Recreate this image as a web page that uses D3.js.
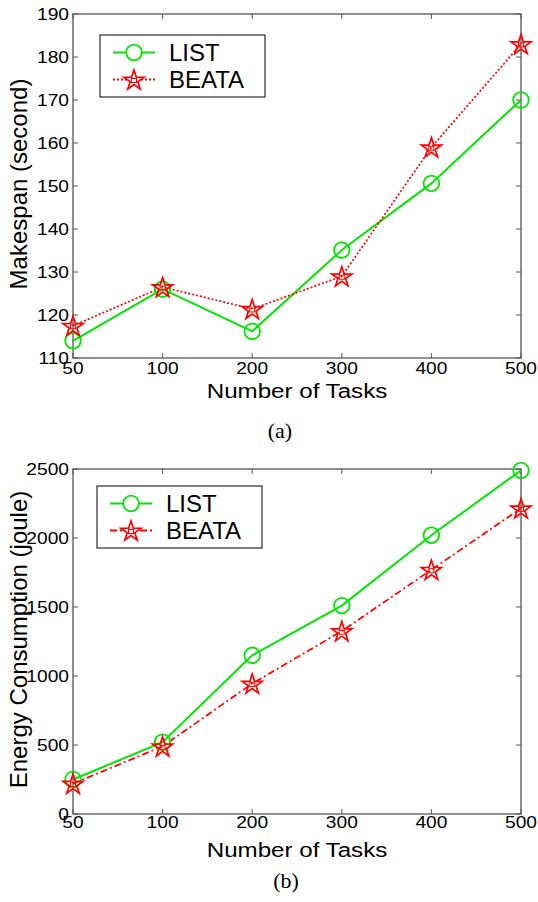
<!DOCTYPE html>
<html>
<head>
<meta charset="utf-8">
<script src="https://cdn.jsdelivr.net/npm/d3@7"></script>
<style>
  body { margin: 0; background: #fff; }
  text { font-family: Arial, "Liberation Sans", sans-serif; fill: #000; }
</style>
</head>
<body>
<svg id="chart" width="538" height="902"></svg>
<script>
const tasks = ["50", "100", "200", "300", "400", "500"];
const seriesNames = ["LIST", "BEATA"];

const makespanList = [114, 126, 116.2, 135.1, 150.6, 170];
const makespanBeata = [117.5, 126.5, 121.4, 129, 159, 183];
const makespanTicks = [110, 120, 130, 140, 150, 160, 170, 180, 190];

const energyList = [250, 520, 1150, 1510, 2020, 2490];
const energyBeata = [220, 490, 945, 1325, 1770, 2215];
const energyTicks = [0, 500, 1000, 1500, 2000, 2500];

const GREEN = "#00e600";
const RED = "#ff0000";
const svg = d3.select("#chart");
const starPath = d3.symbol().type(d3.symbolStar).size(125);

// stretched text helper (reference glyphs are wider than Arial)
function sText(g, x, y, str, size, sx, anchor) {
  return g.append("text")
    .attr("transform", `translate(${x},${y}) scale(${sx},1)`)
    .attr("text-anchor", anchor).attr("font-size", size)
    .text(str);
}

function star(g, cx, cy, fill) {
  const s = g.append("g").attr("transform", `translate(${cx},${cy + 1})`);
  s.append("path").attr("d", starPath)
    .attr("fill", fill).attr("stroke", RED).attr("stroke-width", 1.7);
  s.append("rect").attr("x", -2.5).attr("y", -2).attr("width", 5).attr("height", 4)
    .attr("fill", "none").attr("stroke", RED).attr("stroke-width", 1);
}

function drawPanel(opts) {
  const { top, bottom, left, right, yDomain, yTicks, list, beata, beataDash,
          yLabel, caption, captionX, xLabelY, tickY, legend } = opts;

  const x = d3.scalePoint().domain(tasks).range([left, right]);
  const y = d3.scaleLinear().domain(yDomain).range([bottom, top]);

  const g = svg.append("g");

  // box
  g.append("rect")
    .attr("x", left).attr("y", top)
    .attr("width", right - left).attr("height", bottom - top)
    .attr("fill", "none").attr("stroke", "#555").attr("stroke-width", 1.3);

  // inward ticks
  const tl = 5;
  g.selectAll(".xt").data(tasks).join("path")
    .attr("d", d => `M${x(d)},${bottom}v${-tl}M${x(d)},${top}v${tl}`)
    .attr("stroke", "#555");
  g.selectAll(".yt").data(yTicks).join("path")
    .attr("d", d => `M${left},${y(d)}h${tl}M${right},${y(d)}h${-tl}`)
    .attr("stroke", "#555");

  tasks.forEach(d => sText(g, x(d), bottom + tickY, d, 17, 1.13, "middle"));
  yTicks.forEach(d => sText(g, left - 4, y(d) + 6, d, 17, 1.13, "end"));

  sText(g, (left + right) / 2, bottom + xLabelY, "Number of Tasks", 21, 1.15, "middle");
  g.append("text")
    .attr("transform", `translate(27,${(top + bottom) / 2 - 2}) rotate(-90)`)
    .attr("text-anchor", "middle").attr("font-size", 24)
    .text(yLabel);
  g.append("text")
    .attr("x", captionX).attr("y", opts.captionY)
    .attr("text-anchor", "middle").attr("font-size", 22)
    .style("font-family", "'Liberation Serif', 'Times New Roman', serif")
    .text(caption);

  const line = d3.line().x((d, i) => x(tasks[i])).y(d => y(d));

  g.append("path").datum(list).attr("d", line)
    .attr("fill", "none").attr("stroke", GREEN).attr("stroke-width", 2);
  g.append("path").datum(beata).attr("d", line)
    .attr("fill", "none").attr("stroke", RED).attr("stroke-width", 1.7)
    .attr("stroke-dasharray", beataDash);

  g.selectAll(".lm").data(list).join("circle")
    .attr("cx", (d, i) => x(tasks[i])).attr("cy", d => y(d)).attr("r", 7.8)
    .attr("fill", "none").attr("stroke", GREEN).attr("stroke-width", 1.8);
  beata.forEach((d, i) => star(g, x(tasks[i]), y(d), "none"));

  // legend
  const lg = g.append("g");
  lg.append("rect")
    .attr("x", legend.x).attr("y", legend.y).attr("width", 165).attr("height", 62)
    .attr("fill", "#fff").attr("stroke", "#000").attr("stroke-width", 1);
  const rows = [
    { name: seriesNames[0], color: GREEN, dash: null, mark: "circle" },
    { name: seriesNames[1], color: RED, dash: beataDash, mark: "star" }
  ];
  rows.forEach((r, i) => {
    const cy = legend.y + 17.5 + i * 27;
    const x0 = legend.x + 13, x1 = legend.x + 55;
    lg.append("line").attr("x1", x0).attr("x2", x1).attr("y1", cy).attr("y2", cy)
      .attr("stroke", r.color).attr("stroke-width", 1.8).attr("stroke-dasharray", r.dash);
    if (r.mark === "circle") {
      lg.append("circle").attr("cx", (x0 + x1) / 2).attr("cy", cy).attr("r", 7.8)
        .attr("fill", "#fff").attr("stroke", r.color).attr("stroke-width", 1.8);
    } else {
      star(lg, (x0 + x1) / 2, cy, "#fff");
    }
    lg.append("text").attr("x", legend.x + 69).attr("y", cy + 8.5)
      .attr("font-size", 24).text(r.name);
  });
}

drawPanel({
  top: 14, bottom: 358, left: 73, right: 521,
  yDomain: [110, 190], yTicks: makespanTicks,
  list: makespanList, beata: makespanBeata, beataDash: "2,2",
  yLabel: "Makespan (second)", caption: "(a)", captionX: 280, captionY: 438,
  xLabelY: 40, tickY: 16,
  legend: { x: 100, y: 35 }
});

drawPanel({
  top: 469, bottom: 814, left: 73, right: 521,
  yDomain: [0, 2500], yTicks: energyTicks,
  list: energyList, beata: energyBeata, beataDash: "7,3,2,3",
  yLabel: "Energy Consumption (joule)", caption: "(b)", captionX: 286, captionY: 888,
  xLabelY: 43, tickY: 14,
  legend: { x: 97, y: 486 }
});
</script>
</body>
</html>
